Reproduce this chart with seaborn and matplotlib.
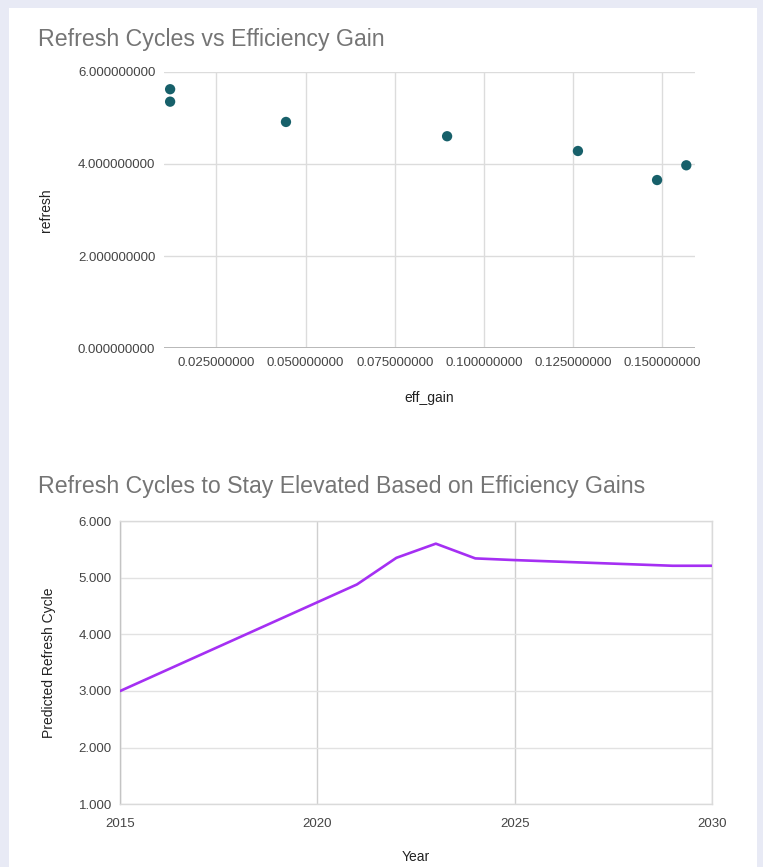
import matplotlib
matplotlib.use("Agg")
import matplotlib.pyplot as plt
from matplotlib.patches import Rectangle
from matplotlib.ticker import FuncFormatter, FixedLocator
import seaborn as sns
import pandas as pd

# Efficiency gain vs refresh cycle observations
eff_gain = [0.0120, 0.0120, 0.0445, 0.0897, 0.1264, 0.1486, 0.1568]
refresh = [5.62, 5.35, 4.91, 4.60, 4.28, 3.65, 3.97]

# Predicted refresh cycle by year
years = [2015, 2021, 2022, 2023, 2024, 2025, 2029, 2030]
predicted = [3.00, 4.88, 5.35, 5.60, 5.34, 5.31, 5.21, 5.21]

scatter_ticks_x = [0.025, 0.05, 0.075, 0.10, 0.125, 0.15]
scatter_ticks_y = [0, 2, 4, 6]
line_ticks_x = [2015, 2020, 2025, 2030]
line_ticks_y = [1, 2, 3, 4, 5, 6]

sns.set_theme(style="white")
plt.rcParams["font.family"] = ["Liberation Sans", "DejaVu Sans"]

W, H = 763, 867
fig = plt.figure(figsize=(W / 100, H / 100), dpi=100)
fig.patch.set_facecolor("#e8eaf5")
fig.add_artist(Rectangle((9 / W, 0), (757 - 9) / W, (H - 8) / H,
                         transform=fig.transFigure, facecolor="white",
                         edgecolor="none", zorder=0))


def axes_px(left, top, right, bottom):
    return fig.add_axes([left / W, 1 - bottom / H, (right - left) / W, (bottom - top) / H])


title_kw = dict(fontsize=16.7, color="#757575", ha="left", va="baseline")
tick_color = "#444444"
label_color = "#222222"

# ---- Scatter: refresh cycles vs efficiency gain ----
df_s = pd.DataFrame({"eff_gain": eff_gain, "refresh": refresh})
ax1 = axes_px(163.7, 71.7, 694.5, 348.3)
ax1.set_facecolor("none")
sns.scatterplot(data=df_s, x="eff_gain", y="refresh", ax=ax1, s=55,
                color="#17606a", edgecolor="none", zorder=3)
ax1.set_xlim(0.0102, 0.1591)
ax1.set_ylim(0, 6)
ax1.xaxis.set_major_locator(FixedLocator(scatter_ticks_x))
ax1.yaxis.set_major_locator(FixedLocator(scatter_ticks_y))
ax1.xaxis.set_major_formatter(FuncFormatter(lambda v, p: f"{v:.9f}"))
ax1.yaxis.set_major_formatter(FuncFormatter(lambda v, p: f"{v:.9f}"))
ax1.grid(True, color="#dcdcdc", linewidth=1.0)
for s in ax1.spines.values():
    s.set_visible(False)
ax1.axhline(0, color="#b8b8b8", linewidth=1.4, zorder=2)
ax1.tick_params(axis="both", length=0, labelsize=9.5, colors=tick_color)
ax1.tick_params(axis="y", pad=6)
ax1.tick_params(axis="x", pad=6)
ax1.set_xlabel("eff_gain", fontsize=10, color=label_color, labelpad=16)
ax1.set_ylabel("refresh", fontsize=10, color=label_color, labelpad=18)
fig.text(38 / W, 1 - 46 / H, "Refresh Cycles vs Efficiency Gain", **title_kw)

# ---- Line: predicted refresh cycle by year ----
df_l = pd.DataFrame({"Year": years, "Predicted Refresh Cycle": predicted})
ax2 = axes_px(120.2, 521, 712, 804.3)
ax2.set_facecolor("none")
sns.lineplot(data=df_l, x="Year", y="Predicted Refresh Cycle", ax=ax2,
             color="#a52ff3", linewidth=1.9, zorder=3)
ax2.set_xlim(2015, 2030)
ax2.set_ylim(1, 6)
ax2.xaxis.set_major_locator(FixedLocator(line_ticks_x))
ax2.yaxis.set_major_locator(FixedLocator(line_ticks_y))
ax2.xaxis.set_major_formatter(FuncFormatter(lambda v, p: f"{int(v)}"))
ax2.yaxis.set_major_formatter(FuncFormatter(lambda v, p: f"{v:.3f}"))
ax2.grid(True, axis="y", color="#e2e2e2", linewidth=1.0)
ax2.grid(True, axis="x", color="#cfcfcf", linewidth=1.0)
for s in ax2.spines.values():
    s.set_visible(True)
    s.set_color("#dadada")
    s.set_linewidth(1.0)
ax2.spines["left"].set_color("#c4c4c4")
ax2.tick_params(axis="both", length=0, labelsize=9.5, colors=tick_color)
ax2.tick_params(axis="y", pad=6)
ax2.tick_params(axis="x", pad=10)
ax2.set_xlabel("Year", fontsize=10, color=label_color, labelpad=14)
ax2.set_ylabel("Predicted Refresh Cycle", fontsize=10, color=label_color, labelpad=16)
fig.text(38 / W, 1 - 493 / H, "Refresh Cycles to Stay Elevated Based on Efficiency Gains", **title_kw)

fig.savefig("out.png", dpi=100, facecolor=fig.get_facecolor())
